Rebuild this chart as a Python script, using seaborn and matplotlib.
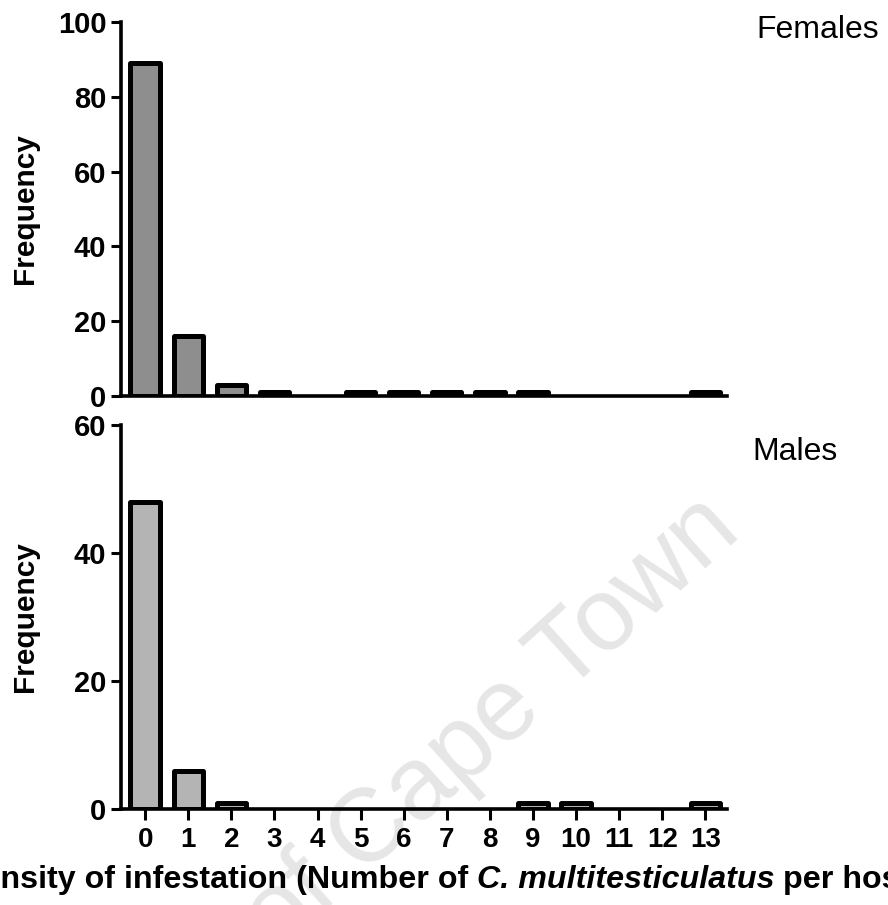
import matplotlib
matplotlib.use("Agg")
import matplotlib.pyplot as plt
import seaborn as sns
import pandas as pd

# Number of parasites per host and how many hosts carried that many
worms = list(range(14))
tick_labels = [str(v) for v in worms]
female_freq = [89, 16, 3, 1, 0, 1, 1, 1, 1, 1, 0, 0, 0, 1]
male_freq = [48, 6, 1, 0, 0, 0, 0, 0, 0, 1, 1, 0, 0, 1]
female_yticks = [0, 20, 40, 60, 80, 100]
male_yticks = [0, 20, 40, 60]

sns.set_style("ticks")
plt.rcParams.update({
    "font.family": ["Liberation Sans", "DejaVu Sans"],
    "text.color": "black",
    "axes.labelcolor": "black",
    "axes.edgecolor": "black",
    "xtick.color": "black",
    "ytick.color": "black",
})

W, H = 888, 905
fig = plt.figure(figsize=(W / 100, H / 100), dpi=100)
fig.patch.set_facecolor("white")

ax_f = fig.add_axes([121 / W, 1 - 396 / H, 606 / W, 374 / H])
ax_m = fig.add_axes([121 / W, 1 - 809 / H, 606 / W, 384 / H])


def draw_panel(ax, freq, fill, yticks, show_x):
    df = pd.DataFrame({"worms": worms, "freq": freq})
    sns.barplot(data=df, x="worms", y="freq", ax=ax, color=fill,
                saturation=1, width=0.68, edgecolor="black", linewidth=3.6)
    for patch in ax.patches:
        patch.set_joinstyle("round")
        if patch.get_height() == 0:
            patch.set_visible(False)
    ax.set_facecolor("none")
    ax.set_xlim(-0.56, 13.5)
    ax.set_ylim(0, yticks[-1])
    ax.set_yticks(yticks)
    ax.set_yticklabels([str(t) for t in yticks], fontsize=21, fontweight="bold")
    sns.despine(ax=ax)
    for side in ("left", "bottom"):
        ax.spines[side].set_linewidth(2.6)
        ax.spines[side].set_color("black")
    ax.tick_params(axis="y", length=7.5, width=2.2, pad=3, colors="black")
    ax.set_ylabel("Frequency", fontsize=21.5, fontweight="bold", color="black")
    ax.yaxis.set_label_coords(-0.135, 0.5)
    ax.set_xlabel("")
    if show_x:
        ax.set_xticks(worms)
        ax.set_xticklabels(tick_labels, fontsize=20, fontweight="bold")
        ax.tick_params(axis="x", length=8, width=2.2, pad=5, colors="black")
    else:
        ax.tick_params(axis="x", bottom=False, labelbottom=False)


draw_panel(ax_f, female_freq, "#8e8e8e", female_yticks, False)
draw_panel(ax_m, male_freq, "#b4b4b4", male_yticks, True)

fig.text(756 / W, 1 - 30 / H, "Females", fontsize=23, ha="left", va="center")
fig.text(752 / W, 1 - 452 / H, "Males", fontsize=23, ha="left", va="center")

# x-axis title set in three runs so the species name can be italic
fs = 23.2
base_y = 1 - 888 / H
species_x = 477
space_px = 0.278 * fs * 100 / 72
species = fig.text(species_x / W, base_y, "C. multitesticulatus", fontsize=fs,
                   fontweight="bold", style="italic", ha="left", va="baseline")
fig.text((species_x - space_px) / W, base_y, "Intensity of infestation (Number of",
         fontsize=fs, fontweight="bold", ha="right", va="baseline")
renderer = fig.canvas.get_renderer()
species_w = species.get_window_extent(renderer).width
fig.text((species_x + species_w + space_px) / W, base_y, "per host)",
         fontsize=fs, fontweight="bold", ha="left", va="baseline")

# repository watermark behind the plot
fig.text(743 / W, 1 - 535 / H, "University of Cape Town", fontsize=74,
         color="#e6e6e6", rotation=42, rotation_mode="anchor",
         ha="right", va="baseline", zorder=-1)

fig.savefig("out.png", dpi=100)
